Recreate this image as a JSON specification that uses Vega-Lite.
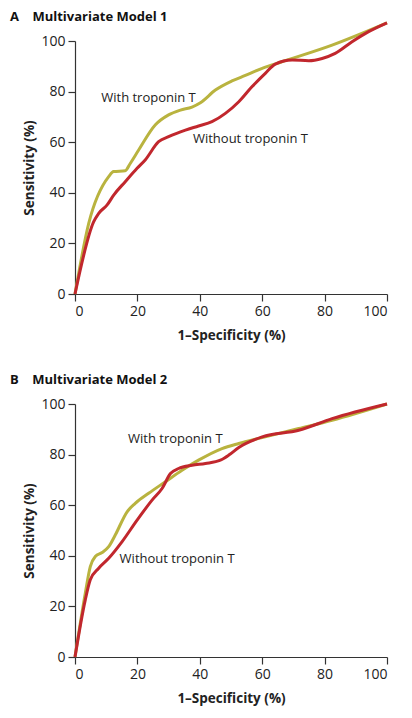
{
  "$schema": "https://vega.github.io/schema/vega-lite/v6.json",
  "padding": {"left": 9, "top": 10, "right": 10, "bottom": 5},
  "background": "white",
  "spacing": 32,
  "config": {
    "font": "Open Sans",
    "view": {"stroke": null},
    "axis": {
      "grid": false,
      "domainColor": "#333333",
      "tickColor": "#333333",
      "domainWidth": 1.2,
      "tickWidth": 1.2,
      "tickSize": 7,
      "labelFontSize": 14,
      "labelColor": "#222222",
      "labelFont": "Open Sans",
      "titleFont": "Open Sans",
      "titleFontSize": 13.5,
      "titleFontWeight": "bold",
      "titleColor": "#222222",
      "labelPadding": 3
    },
    "axisX": {"titlePadding": 10},
    "title": {"font": "Open Sans", "fontSize": 13, "fontWeight": "bold", "color": "#111111", "anchor": "start", "frame": "bounds"}
  },
  "datasets": {
    "curves": [
      {"panel": "A", "series": "With troponin T", "x": 0, "y": 0},
      {"panel": "A", "series": "With troponin T", "x": 4.4, "y": 27.9},
      {"panel": "A", "series": "With troponin T", "x": 10.8, "y": 46.4},
      {"panel": "A", "series": "With troponin T", "x": 12.4, "y": 48.4},
      {"panel": "A", "series": "With troponin T", "x": 16.1, "y": 48.7},
      {"panel": "A", "series": "With troponin T", "x": 17.7, "y": 51.6},
      {"panel": "A", "series": "With troponin T", "x": 20.4, "y": 56.9},
      {"panel": "A", "series": "With troponin T", "x": 25.7, "y": 66.8},
      {"panel": "A", "series": "With troponin T", "x": 30, "y": 70.8},
      {"panel": "A", "series": "With troponin T", "x": 33.8, "y": 72.7},
      {"panel": "A", "series": "With troponin T", "x": 37.5, "y": 73.9},
      {"panel": "A", "series": "With troponin T", "x": 40.2, "y": 75.6},
      {"panel": "A", "series": "With troponin T", "x": 45, "y": 80.6},
      {"panel": "A", "series": "With troponin T", "x": 50.3, "y": 84.2},
      {"panel": "A", "series": "With troponin T", "x": 54.6, "y": 86.4},
      {"panel": "A", "series": "With troponin T", "x": 60, "y": 89.2},
      {"panel": "A", "series": "With troponin T", "x": 66.3, "y": 91.8},
      {"panel": "A", "series": "With troponin T", "x": 82.4, "y": 98.4},
      {"panel": "A", "series": "With troponin T", "x": 100, "y": 107.2},
      {"panel": "A", "series": "Without troponin T", "x": 0, "y": 0},
      {"panel": "A", "series": "Without troponin T", "x": 6, "y": 28.6},
      {"panel": "A", "series": "Without troponin T", "x": 7.6, "y": 31.9},
      {"panel": "A", "series": "Without troponin T", "x": 10.3, "y": 35.2},
      {"panel": "A", "series": "Without troponin T", "x": 12.4, "y": 39.1},
      {"panel": "A", "series": "Without troponin T", "x": 16.1, "y": 44.4},
      {"panel": "A", "series": "Without troponin T", "x": 19.9, "y": 49.7},
      {"panel": "A", "series": "Without troponin T", "x": 22.5, "y": 53},
      {"panel": "A", "series": "Without troponin T", "x": 26.8, "y": 60.2},
      {"panel": "A", "series": "Without troponin T", "x": 30, "y": 62.2},
      {"panel": "A", "series": "Without troponin T", "x": 35.4, "y": 64.8},
      {"panel": "A", "series": "Without troponin T", "x": 39.6, "y": 66.4},
      {"panel": "A", "series": "Without troponin T", "x": 43.9, "y": 68.1},
      {"panel": "A", "series": "Without troponin T", "x": 48.2, "y": 71.4},
      {"panel": "A", "series": "Without troponin T", "x": 52.5, "y": 76},
      {"panel": "A", "series": "Without troponin T", "x": 56.7, "y": 81.9},
      {"panel": "A", "series": "Without troponin T", "x": 61, "y": 87.2},
      {"panel": "A", "series": "Without troponin T", "x": 64.2, "y": 90.9},
      {"panel": "A", "series": "Without troponin T", "x": 69.6, "y": 92.5},
      {"panel": "A", "series": "Without troponin T", "x": 74.9, "y": 92.2},
      {"panel": "A", "series": "Without troponin T", "x": 79.2, "y": 93.1},
      {"panel": "A", "series": "Without troponin T", "x": 83.4, "y": 95.1},
      {"panel": "A", "series": "Without troponin T", "x": 88.8, "y": 99.7},
      {"panel": "A", "series": "Without troponin T", "x": 94.1, "y": 103.7},
      {"panel": "A", "series": "Without troponin T", "x": 100, "y": 107.2},
      {"panel": "B", "series": "With troponin T", "x": 0, "y": 0},
      {"panel": "B", "series": "With troponin T", "x": 3.3, "y": 25.2},
      {"panel": "B", "series": "With troponin T", "x": 4.9, "y": 35.7},
      {"panel": "B", "series": "With troponin T", "x": 6.5, "y": 39.7},
      {"panel": "B", "series": "With troponin T", "x": 8.7, "y": 41.3},
      {"panel": "B", "series": "With troponin T", "x": 10.8, "y": 43.6},
      {"panel": "B", "series": "With troponin T", "x": 12.9, "y": 48.2},
      {"panel": "B", "series": "With troponin T", "x": 16.7, "y": 57.4},
      {"panel": "B", "series": "With troponin T", "x": 19.3, "y": 60.7},
      {"panel": "B", "series": "With troponin T", "x": 23.6, "y": 64.7},
      {"panel": "B", "series": "With troponin T", "x": 29, "y": 69.3},
      {"panel": "B", "series": "With troponin T", "x": 34.3, "y": 73.8},
      {"panel": "B", "series": "With troponin T", "x": 39.6, "y": 77.8},
      {"panel": "B", "series": "With troponin T", "x": 47.1, "y": 82.4},
      {"panel": "B", "series": "With troponin T", "x": 52.5, "y": 84.4},
      {"panel": "B", "series": "With troponin T", "x": 60, "y": 86.7},
      {"panel": "B", "series": "With troponin T", "x": 71.7, "y": 90.3},
      {"panel": "B", "series": "With troponin T", "x": 82.4, "y": 93.6},
      {"panel": "B", "series": "With troponin T", "x": 100, "y": 100},
      {"panel": "B", "series": "Without troponin T", "x": 0, "y": 0},
      {"panel": "B", "series": "Without troponin T", "x": 3.3, "y": 22.6},
      {"panel": "B", "series": "Without troponin T", "x": 4.9, "y": 30.5},
      {"panel": "B", "series": "Without troponin T", "x": 7.6, "y": 35.1},
      {"panel": "B", "series": "Without troponin T", "x": 10.8, "y": 39},
      {"panel": "B", "series": "Without troponin T", "x": 15.1, "y": 45.6},
      {"panel": "B", "series": "Without troponin T", "x": 19.9, "y": 54.1},
      {"panel": "B", "series": "Without troponin T", "x": 24.7, "y": 62},
      {"panel": "B", "series": "Without troponin T", "x": 27.9, "y": 66.6},
      {"panel": "B", "series": "Without troponin T", "x": 30.6, "y": 72.5},
      {"panel": "B", "series": "Without troponin T", "x": 33.2, "y": 74.5},
      {"panel": "B", "series": "Without troponin T", "x": 37.5, "y": 75.8},
      {"panel": "B", "series": "Without troponin T", "x": 41.8, "y": 76.5},
      {"panel": "B", "series": "Without troponin T", "x": 46.6, "y": 77.8},
      {"panel": "B", "series": "Without troponin T", "x": 49.3, "y": 79.8},
      {"panel": "B", "series": "Without troponin T", "x": 52.5, "y": 82.8},
      {"panel": "B", "series": "Without troponin T", "x": 60, "y": 87},
      {"panel": "B", "series": "Without troponin T", "x": 71.7, "y": 89.6},
      {"panel": "B", "series": "Without troponin T", "x": 82.4, "y": 94.2},
      {"panel": "B", "series": "Without troponin T", "x": 100, "y": 100}
    ],
    "labels": [
      {"panel": "A", "label": "With troponin T", "x": 8.4, "y": 77.3},
      {"panel": "A", "label": "Without troponin T", "x": 37.8, "y": 61.1},
      {"panel": "B", "label": "With troponin T", "x": 17, "y": 86.3},
      {"panel": "B", "label": "Without troponin T", "x": 14.3, "y": 38.6}
    ]
  },
  "vconcat": [
    {
      "width": 312,
      "height": 253,
      "title": {"text": "A\u00a0\u00a0\u00a0\u00a0Multivariate Model 1", "dx": -13, "offset": -7},
      "layer": [
        {
          "data": {"name": "curves"},
          "transform": [{"filter": "datum.panel === 'A'"}],
          "mark": {"type": "line", "interpolate": "monotone", "strokeWidth": 3, "clip": false},
          "encoding": {
            "x": {"field": "x", "type": "quantitative", "scale": {"domain": [0, 100], "nice": false}, "axis": {"values": [0, 20, 40, 60, 80, 100], "title": "1–Specificity (%)"}},
            "y": {"field": "y", "type": "quantitative", "scale": {"domain": [0, 100], "nice": false}, "axis": {"values": [0, 20, 40, 60, 80, 100], "title": "Sensitivity (%)"}},
            "color": {"field": "series", "type": "nominal", "scale": {"domain": ["Without troponin T", "With troponin T"], "range": ["#c1272d", "#b9b33f"]}, "legend": null},
            "order": {"field": "x", "type": "quantitative"}
          }
        },
        {
          "data": {"name": "labels"},
          "transform": [{"filter": "datum.panel === 'A'"}],
          "mark": {"type": "text", "align": "left", "baseline": "middle", "fontSize": 13, "color": "#222222", "font": "Open Sans"},
          "encoding": {
            "x": {"field": "x", "type": "quantitative"},
            "y": {"field": "y", "type": "quantitative"},
            "text": {"field": "label"}
          }
        }
      ]
    },
    {
      "width": 312,
      "height": 253,
      "title": {"text": "B\u00a0\u00a0\u00a0\u00a0Multivariate Model 2", "dx": -13, "offset": 10},
      "layer": [
        {
          "data": {"name": "curves"},
          "transform": [{"filter": "datum.panel === 'B'"}],
          "mark": {"type": "line", "interpolate": "monotone", "strokeWidth": 3, "clip": false},
          "encoding": {
            "x": {"field": "x", "type": "quantitative", "scale": {"domain": [0, 100], "nice": false}, "axis": {"values": [0, 20, 40, 60, 80, 100], "title": "1–Specificity (%)"}},
            "y": {"field": "y", "type": "quantitative", "scale": {"domain": [0, 100], "nice": false}, "axis": {"values": [0, 20, 40, 60, 80, 100], "title": "Sensitivity (%)"}},
            "color": {"field": "series", "type": "nominal", "scale": {"domain": ["Without troponin T", "With troponin T"], "range": ["#c1272d", "#b9b33f"]}, "legend": null},
            "order": {"field": "x", "type": "quantitative"}
          }
        },
        {
          "data": {"name": "labels"},
          "transform": [{"filter": "datum.panel === 'B'"}],
          "mark": {"type": "text", "align": "left", "baseline": "middle", "fontSize": 13, "color": "#222222", "font": "Open Sans"},
          "encoding": {
            "x": {"field": "x", "type": "quantitative"},
            "y": {"field": "y", "type": "quantitative"},
            "text": {"field": "label"}
          }
        }
      ]
    }
  ]
}
